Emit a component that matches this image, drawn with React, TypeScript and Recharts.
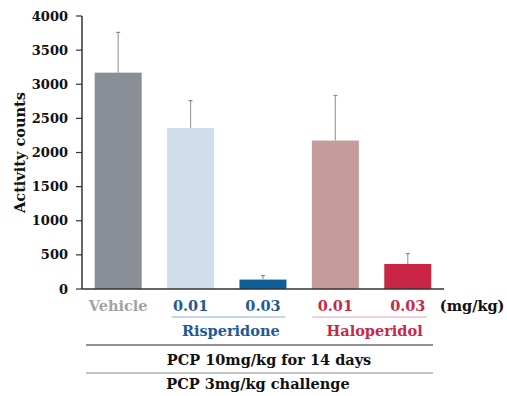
import { BarChart, Bar, XAxis, YAxis, Cell } from 'recharts';

const groups = ['Vehicle', '0.01', '0.03', '0.01', '0.03'];
const means = [3170, 2360, 138, 2175, 366];
const sems = [590, 400, 58, 660, 153];
const barColors = ['#8a8e96', '#cfdeea', '#0f5f98', '#c49c9c', '#cb2545'];
const labelColors = ['#a3a3a6', '#1e5a96', '#1e5a96', '#c8284a', '#c8284a'];
const yTicks = [0, 500, 1000, 1500, 2000, 2500, 3000, 3500, 4000];

const data = groups.map((g, i) => ({ id: i, group: g, mean: means[i], sem: sems[i] }));

const W = 507;
const H = 396;
const margin = { top: 16, right: 63, left: 0, bottom: 0 };
const yAxisW = 82;
const band = (W - margin.right - yAxisW) / groups.length;
const font = 'DejaVu Serif, serif';
const txt = { fontFamily: font, fontWeight: 'bold' as const };
const fs = 14.5;

// bar with an upward-only error whisker
const BarWithError = (props: any) => {
  const { x, y, width, height, fill, payload } = props;
  const perUnit = payload.mean ? height / payload.mean : 0;
  const cx = x + width / 2;
  const top = y - payload.sem * perUnit;
  return (
    <g>
      <rect x={x} y={y} width={width} height={height} fill={fill} />
      <line x1={cx} y1={y} x2={cx} y2={top} stroke="#a0a0a0" strokeWidth={1.2} />
      <line x1={cx - 2} y1={top} x2={cx + 2} y2={top} stroke="#8a8a8a" strokeWidth={1.2} />
    </g>
  );
};

const GroupTick = (props: any) => {
  const { x, y, payload } = props;
  const i = payload.index ?? payload.value;
  const plotLeft = x - band / 2 - i * band;
  const plotRight = plotLeft + band * groups.length;
  return (
    <g>
      <text x={x} y={y + 22} textAnchor="middle" fontSize={fs} fill={labelColors[i]} style={txt}>
        {groups[i]}
      </text>
      {i === 1 && (
        <g>
          <line x1={x - 19} y1={y + 28} x2={x + band + 22} y2={y + 28} stroke="#8fb0d8" strokeWidth={1.2} />
          <text x={x + band / 2 + 4} y={y + 47} textAnchor="middle" fontSize={fs} fill="#1e5a96" style={txt}>
            Risperidone
          </text>
        </g>
      )}
      {i === 3 && (
        <g>
          <line x1={x - 23} y1={y + 28} x2={x + band + 19} y2={y + 28} stroke="#e8a0b0" strokeWidth={1.2} />
          <text x={x + band / 2 + 3} y={y + 47} textAnchor="middle" fontSize={fs} fill="#c8284a" style={txt}>
            Haloperidol
          </text>
        </g>
      )}
      {i === 4 && (
        <text x={x + 32} y={y + 22} textAnchor="start" fontSize={fs} fill="#111" style={txt}>
          (mg/kg)
        </text>
      )}
      {i === 0 && (
        <g>
          <line x1={plotLeft + 4} y1={y + 56} x2={plotRight - 11} y2={y + 56} stroke="#222" strokeWidth={1.2} />
          <text x={269} y={y + 76} textAnchor="middle" fontSize={fs} fill="#111" style={txt}>
            PCP 10mg/kg for 14 days
          </text>
          <line x1={plotLeft + 4} y1={y + 84} x2={plotRight - 11} y2={y + 84} stroke="#888" strokeWidth={1.2} />
          <text x={258} y={y + 100} textAnchor="middle" fontSize={fs} fill="#111" style={txt}>
            PCP 3mg/kg challenge
          </text>
        </g>
      )}
    </g>
  );
};

export default function App() {
  return (
    <div style={{ position: 'absolute', left: 0, top: 0, width: W, height: H, background: '#fff' }}>
      <BarChart width={W} height={H} data={data} margin={margin} barCategoryGap="17.5%">
        <XAxis
          dataKey="id"
          type="category"
          height={H - margin.top - 273}
          axisLine={{ stroke: '#333', strokeWidth: 1.5 }}
          tickLine={false}
          tickSize={0}
          tickMargin={0}
          interval={0}
          tick={<GroupTick />}
        />
        <YAxis
          width={yAxisW}
          domain={[0, 4000]}
          ticks={yTicks}
          interval={0}
          axisLine={{ stroke: '#333', strokeWidth: 1.5 }}
          tickLine={{ stroke: '#333', strokeWidth: 1.2 }}
          tickSize={6}
          tickMargin={8}
          tick={{ fill: '#111', fontSize: 13, style: txt }}
          label={{
            value: 'Activity counts',
            angle: -90,
            position: 'insideLeft',
            offset: 20,
            style: { ...txt, fill: '#111', fontSize: 14.5, textAnchor: 'middle' },
          }}
        />
        <Bar dataKey="mean" isAnimationActive={false} shape={<BarWithError />}>
          {data.map((d, i) => (
            <Cell key={d.id} fill={barColors[i]} />
          ))}
        </Bar>
      </BarChart>
    </div>
  );
}
